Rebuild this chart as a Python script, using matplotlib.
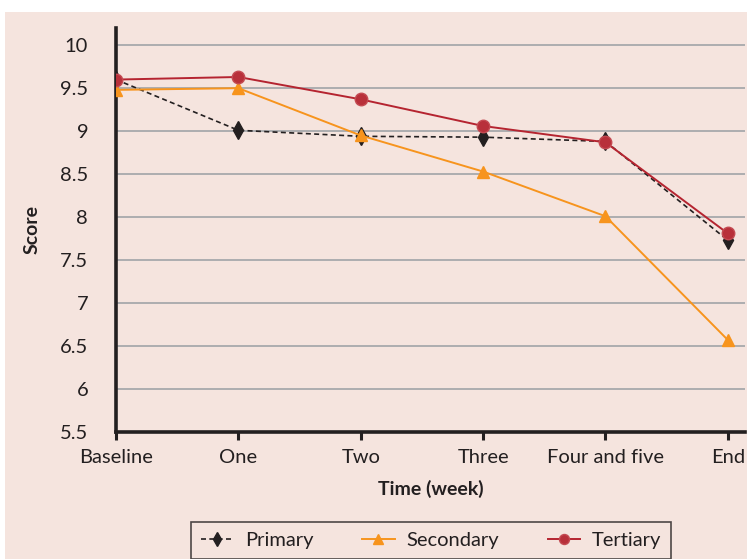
import matplotlib.pyplot as plt
from matplotlib.patches import Rectangle

plt.rcParams['font.family'] = ['Lato', 'DejaVu Sans']

weeks = ['Baseline', 'One', 'Two', 'Three', 'Four and five', 'End']
primary = [9.6, 9.01, 8.94, 8.93, 8.88, 7.73]
secondary = [9.48, 9.5, 8.95, 8.53, 8.01, 6.57]
tertiary = [9.6, 9.63, 9.37, 9.06, 8.87, 7.81]
yticks = [5.5, 6, 6.5, 7, 7.5, 8, 8.5, 9, 9.5, 10]
ytick_labels = ['5.5', '6', '6.5', '7', '7.5', '8', '8.5', '9', '9.5', '10']

pink = '#f5e4de'
fig = plt.figure(figsize=(7.47, 5.59), dpi=100, facecolor='white')
fig.patches.append(Rectangle((5 / 747, 0), 1, 1 - 12 / 559, transform=fig.transFigure,
                             facecolor=pink, edgecolor='none', zorder=-10))

ax = fig.add_axes([116 / 747, 1 - 432 / 559, (745 - 116) / 747, (432 - 28) / 559])
ax.set_facecolor(pink)
x = list(range(len(weeks)))

ax.plot(x, primary, color='#231f20', linestyle=(0, (3, 2)), lw=1.2,
        marker='d', ms=9, mfc='#231f20', mec='#231f20', label='Primary', zorder=3)
ax.plot(x, secondary, color='#f7941d', lw=1.4,
        marker='^', ms=9, mfc='#f7941d', mec='#f7941d', label='Secondary', zorder=4)
ax.plot(x, tertiary, color='#b52430', lw=1.4,
        marker='o', ms=9, mfc='#b8303a', mec='#c44a52', label='Tertiary', zorder=5)

ax.set_ylim(5.5, 10.2)
ax.set_xlim(0, 5.14)
ax.set_yticks(yticks)
ax.set_yticklabels(ytick_labels)
ax.set_xticks(x)
ax.set_xticklabels(weeks)
ax.yaxis.grid(True, color='#a7a9ac', lw=1.3)
ax.set_axisbelow(True)

for s in ['top', 'right']:
    ax.spines[s].set_visible(False)
for s in ['left', 'bottom']:
    ax.spines[s].set_linewidth(2.6)
    ax.spines[s].set_color('#231f20')

ax.tick_params(axis='y', length=0, pad=20, labelsize=14.5, labelcolor='#231f20')
ax.tick_params(axis='x', length=6, width=2.2, direction='out', color='#231f20',
               pad=6, labelsize=14.5, labelcolor='#231f20')

ax.set_ylabel('Score', fontsize=14, fontweight='bold', color='#231f20', labelpad=14)
ax.set_xlabel('Time (week)', fontsize=14, fontweight='bold', color='#231f20', labelpad=10)

leg = fig.legend(loc='upper left', bbox_to_anchor=(181 / 747, 1 - 512 / 559), ncol=3,
                 frameon=True, fancybox=False, edgecolor='#231f20', facecolor=pink,
                 fontsize=14.5, handlelength=1.6, handletextpad=0.6, columnspacing=2.4,
                 borderpad=0.5, markerscale=0.8)
leg.get_frame().set_linewidth(1.2)
for t in leg.get_texts():
    t.set_color('#231f20')

fig.savefig('out.png', dpi=100, facecolor='white')
